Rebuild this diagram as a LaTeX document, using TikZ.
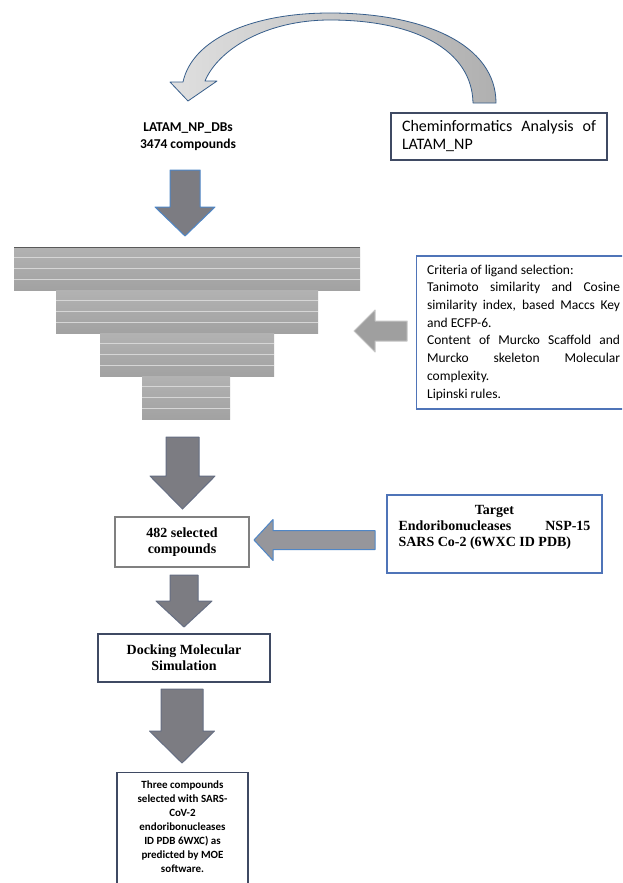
\documentclass[tikz,border=0pt]{standalone}
\usepackage{fontspec}
\setmainfont{Liberation Serif}
\newfontfamily\calibri{Carlito}
\usetikzlibrary{positioning}

\definecolor{navy}{HTML}{3F4A63}
\definecolor{boxblue}{HTML}{4F74B8}
\definecolor{arrowgray}{HTML}{7C7C82}
\definecolor{arrowblue}{HTML}{4F86C6}
\definecolor{funnelA}{HTML}{B2B2B2}
\definecolor{funnelB}{HTML}{A2A2A2}
\definecolor{funnelline}{HTML}{D6D6D6}

\tikzstyle{navybox} = [rectangle, draw=navy, line width=1.2pt, fill=white, inner sep=0pt, text centered]
\tikzstyle{bluebox} = [rectangle, draw=boxblue, line width=1.2pt, fill=white, inner sep=0pt]
\tikzstyle{graybox} = [rectangle, draw=gray, line width=1.2pt, fill=white, inner sep=0pt, text centered]
\tikzstyle{serifbold} = [font=\fontsize{14}{16}\selectfont\bfseries]
\tikzstyle{fatarrow} = [fill=arrowgray, draw=navy!80, line width=1pt, line join=round]
\tikzstyle{bentarrow} = [left color=gray!25, right color=gray!62, draw=arrowblue!70!black, line width=0.8pt, line join=round]

% block arrows: centre, start, shoulder, tip, half shaft, half head, style
\newcommand{\downblock}[7]{%
  \draw[#7] ({#1-#5},#2) -- ({#1+#5},#2) -- ({#1+#5},#3) -- ({#1+#6},#3) -- (#1,#4)
    -- ({#1-#6},#3) -- ({#1-#5},#3) -- cycle;}
\newcommand{\leftblock}[7]{%
  \draw[#7] (#2,#1) -- (#3,{#1-#6}) -- (#3,{#1-#5}) -- (#4,{#1-#5}) -- (#4,{#1+#5})
    -- (#3,{#1+#5}) -- (#3,{#1+#6}) -- cycle;}

\begin{document}
\begin{tikzpicture}[x=1pt, y=-1pt]
  \useasboundingbox (0,0) rectangle (622,883);
  \clip (0,0) rectangle (622,883);
  \fill[white] (0,0) rectangle (622,883);

  % curved arrow back to the database
  \draw[bentarrow] (496,103) .. controls (496,45) and (425,13) .. (330,13)
    .. controls (250,13) and (192,40) .. (183,82) -- (170,82) -- (188,101) -- (217,81) -- (205,81)
    .. controls (218,50) and (265,20) .. (330,20) .. controls (415,20) and (472,50) .. (473,103) -- cycle;

  \node (latam) [font=\calibri\bfseries\fontsize{13.5}{17}\selectfont, align=center] at (188,136.5) {LATAM\_NP\_DBs\\3474 compounds};
  \node (chem) [navybox, minimum width=216, minimum height=47, text width=194, inner xsep=11pt, align=justify, font=\calibri\fontsize{16}{18}\selectfont] at (499,136.5) {Cheminformatics Analysis of\linebreak LATAM\_NP};

  % funnel
  \foreach \xl/\xr/\yt in {14/360/247, 56/318/290, 100/274/333, 142/230/376} {
    \shade[top color=funnelA, bottom color=funnelB] (\xl,\yt) rectangle (\xr,\yt+43);
    \foreach \k in {1,2,3}
      \draw[funnelline, line width=1.1pt] (\xl,{\yt+\k*10.75}) -- (\xr,{\yt+\k*10.75});
  }
  \draw[gray!70!black, line width=1.5pt] (14,247.5) -- (360,247.5);

  \node (crit) [bluebox, anchor=west, minimum height=153, text width=193, inner xsep=10.5pt, align=justify, font=\calibri\fontsize{13.5}{17.7}\selectfont] at (416,332.5) {Criteria of ligand selection:\newline
    Tanimoto similarity and Cosine\linebreak
    similarity index, based Maccs Key\linebreak
    and ECFP-6.\newline
    Content of Murcko Scaffold and\linebreak
    Murcko skeleton Molecular\linebreak
    complexity.\newline
    Lipinski rules.};

  \node (sel) [graybox, serifbold, minimum width=134, minimum height=50, align=center] at (182,542) {482 selected\\compounds};
  \node (target) [bluebox, minimum width=215, minimum height=78] at (494.5,534) {};
  \node (targettxt) [serifbold, text width=192, align=justify, anchor=north, inner sep=0pt] at ([yshift=-11pt]target.north) {\hfill Target\hfill\null\newline Endoribonucleases NSP-15\linebreak SARS Co-2 (6WXC ID PDB)};
  \node (dock) [navybox, serifbold, minimum width=172, minimum height=48, align=center] at (184,658) {Docking Molecular\\Simulation};
  \node (result) [navybox, minimum width=131, minimum height=140, anchor=north] at (182.5,772) {};
  \node (resulttxt) [font=\calibri\bfseries\fontsize{11}{14}\selectfont, align=center, anchor=north, inner sep=0pt] at ([yshift=-9pt]result.north) {Three compounds\\selected with SARS-\\CoV-2\\endoribonucleases\\ID PDB 6WXC) as\\predicted by MOE\\software.};

  % block arrows
  \downblock{185}{170}{207}{236}{15}{30}{fatarrow, draw=arrowblue}
  \downblock{182.5}{437}{476}{509}{16.5}{32.5}{fatarrow}
  \downblock{184}{575}{601}{627}{14}{28}{fatarrow}
  \downblock{182}{689}{731}{763}{21}{32.5}{fatarrow}
  \leftblock{331}{354}{375}{407}{10}{21}{fatarrow, fill=gray!75, draw=gray!45}
  \leftblock{540}{254}{273}{375}{9.5}{20.5}{fatarrow, fill=arrowgray!80, draw=arrowblue}
\end{tikzpicture}
\end{document}
